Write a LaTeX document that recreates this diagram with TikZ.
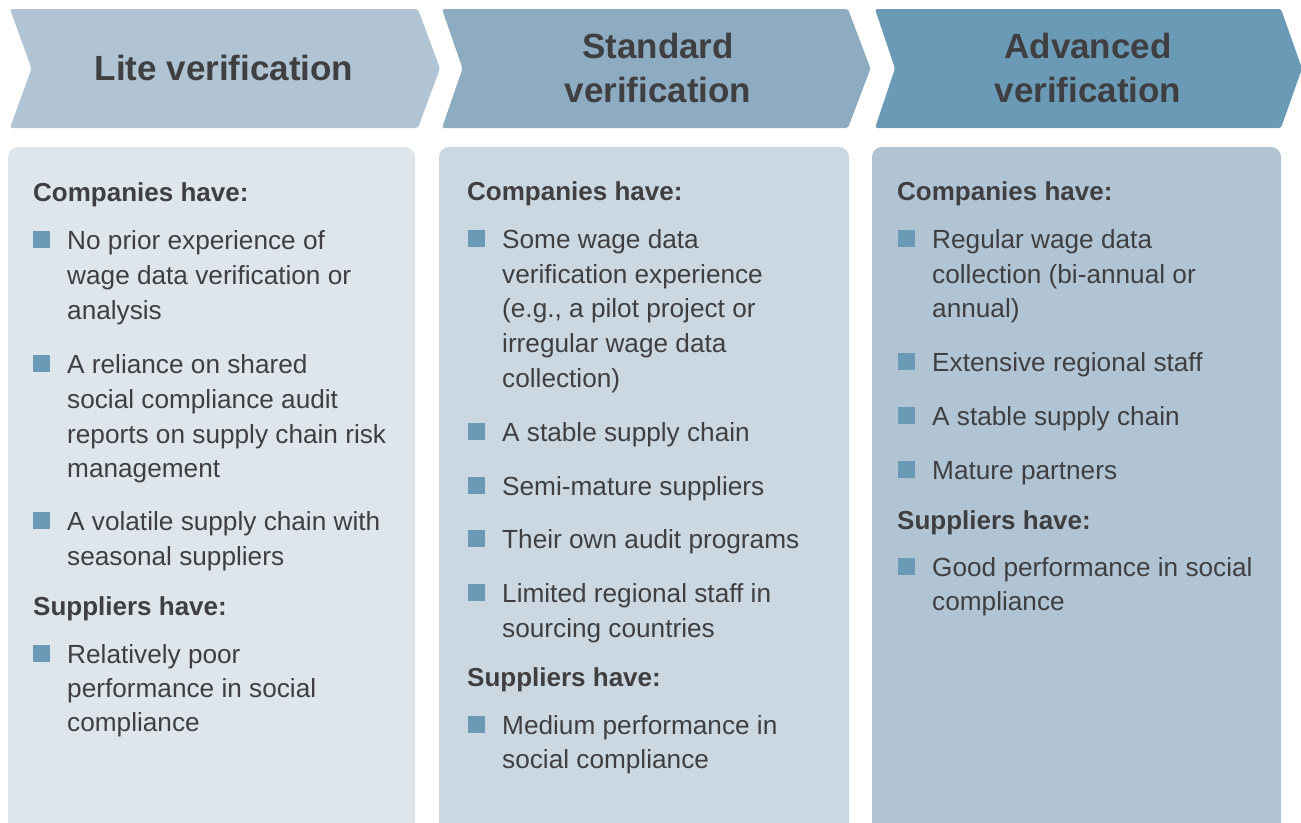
\documentclass[tikz,border=0pt]{standalone}
\usepackage{fontspec}
\setmainfont{Liberation Sans}
\definecolor{chevA}{HTML}{B0C4D4}
\definecolor{chevB}{HTML}{8DACC2}
\definecolor{chevC}{HTML}{6A9AB5}
\definecolor{boxA}{HTML}{DEE5EB}
\definecolor{boxB}{HTML}{CBD8E1}
\definecolor{boxC}{HTML}{B0C4D4}
\definecolor{bul}{HTML}{6A9AB5}
\definecolor{ink}{HTML}{3F3F41}
\tikzset{
  chevron/.style={rounded corners=2.5pt},
  panel/.style={rounded corners=10pt},
  titletext/.style={font=\fontsize{35}{44}\selectfont\bfseries, text=ink, align=center, inner sep=0},
  headtext/.style={anchor=base west, yshift=-9.6pt, font=\fontsize{26}{30}\selectfont\bfseries, text=ink, inner sep=0},
  bodytext/.style={anchor=base west, yshift=-9.6pt, font=\fontsize{26.2}{30}\selectfont, text=ink, inner sep=0},
  bulletsq/.style={fill=bul, minimum size=17.5pt, inner sep=0, draw=none}
}
\begin{document}
\begin{tikzpicture}[x=1pt,y=-1pt]
\useasboundingbox (0,0) rectangle (1301,822);
\clip (0,0) rectangle (1301,822);
% chevrons
\fill[chevA,chevron] (10,9) -- (418,9) -- (440,68.5) -- (418,128) -- (10,128) -- (31.5,68.5) -- cycle;
\fill[chevB,chevron] (442,9) -- (848,9) -- (870.5,68.5) -- (848,128) -- (442,128) -- (462.5,68.5) -- cycle;
\fill[chevC,chevron] (875,9) -- (1281,9) -- (1302,68.5) -- (1281,128) -- (875,128) -- (895,68.5) -- cycle;
\node[titletext] (t1) at (224,68) {Lite verification};
\node[titletext] (t2) at (658,68) {Standard\\verification};
\node[titletext] (t3) at (1088,68) {Advanced\\verification};
% panels
\fill[boxA,panel] (8,147) rectangle (415,850);
\fill[boxB,panel] (439,147) rectangle (849,850);
\fill[boxC,panel] (872,147) rectangle (1281,850);
% column 1
\node[headtext] (h11) at (33,192) {Companies have:};
\node[bulletsq] (b11) at (41.5,239.5) {};
\node[bodytext] (l11) at (67,240) {No prior experience of};
\node[bodytext] (l12) at (67,275) {wage data verification or};
\node[bodytext] (l13) at (67,310) {analysis};
\node[bulletsq] (b12) at (41.5,363.5) {};
\node[bodytext] (l14) at (67,364) {A reliance on shared};
\node[bodytext] (l15) at (67,399) {social compliance audit};
\node[bodytext] (l16) at (67,434) {reports on supply chain risk};
\node[bodytext] (l17) at (67,468) {management};
\node[bulletsq] (b13) at (41.5,520.5) {};
\node[bodytext] (l18) at (67,521) {A volatile supply chain with};
\node[bodytext] (l19) at (67,556) {seasonal suppliers};
\node[headtext] (h12) at (33,606) {Suppliers have:};
\node[bulletsq] (b14) at (41.5,653.5) {};
\node[bodytext] (l110) at (67,654) {Relatively poor};
\node[bodytext] (l111) at (67,688) {performance in social};
\node[bodytext] (l112) at (67,722) {compliance};
% column 2
\node[headtext] (h21) at (467,191) {Companies have:};
\node[bulletsq] (b21) at (476.5,238.5) {};
\node[bodytext] (l21) at (502,239) {Some wage data};
\node[bodytext] (l22) at (502,274) {verification experience};
\node[bodytext] (l23) at (502,308) {(e.g., a pilot project or};
\node[bodytext] (l24) at (502,343) {irregular wage data};
\node[bodytext] (l25) at (502,378) {collection)};
\node[bulletsq] (b22) at (476.5,431.5) {};
\node[bodytext] (l26) at (502,432) {A stable supply chain};
\node[bulletsq] (b23) at (476.5,485.5) {};
\node[bodytext] (l27) at (502,486) {Semi-mature suppliers};
\node[bulletsq] (b24) at (476.5,538.5) {};
\node[bodytext] (l28) at (502,539) {Their own audit programs};
\node[bulletsq] (b25) at (476.5,592.5) {};
\node[bodytext] (l29) at (502,593) {Limited regional staff in};
\node[bodytext] (l210) at (502,628) {sourcing countries};
\node[headtext] (h22) at (467,677) {Suppliers have:};
\node[bulletsq] (b26) at (476.5,724.5) {};
\node[bodytext] (l211) at (502,725) {Medium performance in};
\node[bodytext] (l212) at (502,759) {social compliance};
% column 3
\node[headtext] (h31) at (897,191) {Companies have:};
\node[bulletsq] (b31) at (906.5,238.5) {};
\node[bodytext] (l31) at (932,239) {Regular wage data};
\node[bodytext] (l32) at (932,274) {collection (bi-annual or};
\node[bodytext] (l33) at (932,308) {annual)};
\node[bulletsq] (b32) at (906.5,361.5) {};
\node[bodytext] (l34) at (932,362) {Extensive regional staff};
\node[bulletsq] (b33) at (906.5,415.5) {};
\node[bodytext] (l35) at (932,416) {A stable supply chain};
\node[bulletsq] (b34) at (906.5,469.5) {};
\node[bodytext] (l36) at (932,470) {Mature partners};
\node[headtext] (h32) at (897,520) {Suppliers have:};
\node[bulletsq] (b35) at (906.5,566.5) {};
\node[bodytext] (l37) at (932,567) {Good performance in social};
\node[bodytext] (l38) at (932,601) {compliance};
\end{tikzpicture}
\end{document}
